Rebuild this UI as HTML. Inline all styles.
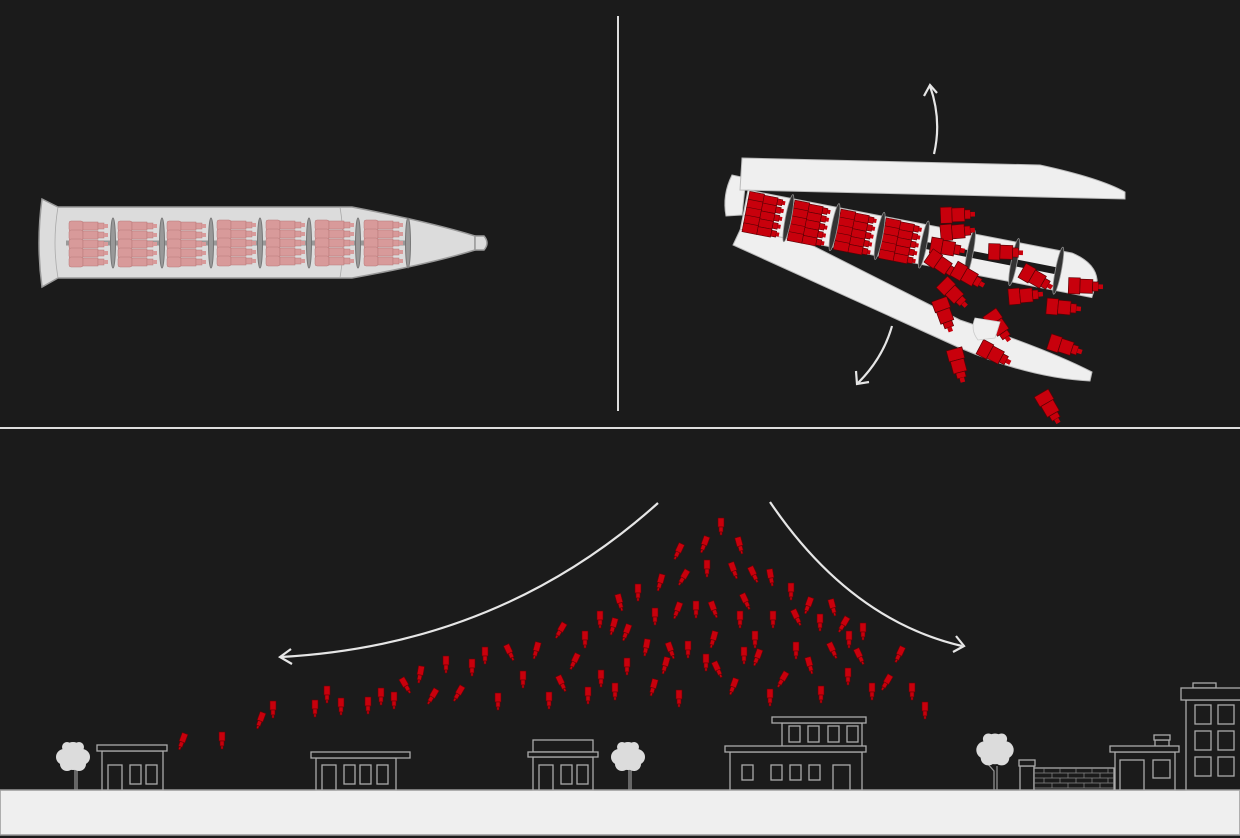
<!DOCTYPE html>
<html><head><meta charset="utf-8"><style>
html,body{margin:0;padding:0;background:#1b1b1b;}
svg{display:block}
</style></head><body>
<svg width="1240" height="838" viewBox="0 0 1240 838" xmlns="http://www.w3.org/2000/svg">
<defs>
<g id="b"><rect x="-3" y="-9" width="6" height="9" fill="#c8000c" stroke="#6a0005" stroke-width="0.6"/><rect x="-2" y="0" width="4" height="5" fill="#c8000c" stroke="#6a0005" stroke-width="0.6"/><rect x="-1" y="5" width="2" height="3" fill="#c8000c" stroke="#6a0005" stroke-width="0.6"/></g>
<g id="pc"><rect x="0" y="0" width="14" height="10" rx="2" fill="#d89a9a" stroke="#b87878" stroke-width="0.5"/><rect x="14" y="1" width="15" height="8" fill="#d89a9a" stroke="#b87878" stroke-width="0.5"/><rect x="29" y="2" width="6" height="6" fill="#d89a9a" stroke="#b87878" stroke-width="0.5"/><rect x="35" y="3" width="4" height="4" fill="#d89a9a"/></g>
<g id="pcl"><use href="#pc" y="0"/><use href="#pc" y="9"/><use href="#pc" y="18"/><use href="#pc" y="27"/><use href="#pc" y="36"/></g>
<g id="rc"><rect x="0" y="0" width="15" height="9" fill="#c8000c" stroke="#5a0004" stroke-width="0.6"/><rect x="15" y="1" width="14" height="8" fill="#c8000c" stroke="#5a0004" stroke-width="0.6"/><rect x="29" y="2" width="5" height="6" fill="#c8000c" stroke="#5a0004" stroke-width="0.6"/><rect x="34" y="3" width="3" height="4" fill="#c8000c"/></g>
<g id="rcl"><use href="#rc" y="0"/><use href="#rc" y="8"/><use href="#rc" y="16"/><use href="#rc" y="24"/><use href="#rc" y="32"/></g>
<g id="B"><rect x="-7" y="-10" width="14" height="10" fill="#c8000c" stroke="#5a0004" stroke-width="0.6"/><rect x="-6" y="0" width="12" height="11" fill="#c8000c" stroke="#5a0004" stroke-width="0.6"/><rect x="-4" y="11" width="8" height="5" fill="#c8000c" stroke="#5a0004" stroke-width="0.6"/><rect x="-2" y="16" width="4" height="4" fill="#c8000c"/></g>
<g id="tree"><circle cx="0" cy="-6" r="9"/><circle cx="-9" cy="0" r="8"/><circle cx="9" cy="0" r="8"/><circle cx="-6" cy="7" r="7"/><circle cx="6" cy="7" r="7"/><circle cx="0" cy="4" r="9"/><circle cx="-6" cy="-10" r="5"/><circle cx="6" cy="-10" r="5"/></g>
</defs>
<rect width="1240" height="838" fill="#1b1b1b"/>
<line x1="618" y1="16" x2="618" y2="411" stroke="#ddd" stroke-width="2"/>
<line x1="0" y1="428" x2="1240" y2="428" stroke="#ddd" stroke-width="2"/>

<!-- rocket left -->
<path d="M42,199 L58,207 L352,207 Q430,222 475,236 L475,250 Q430,264 352,278 L58,278 L42,287 Q36,243 42,199 Z" fill="#dcdcdc" stroke="#999" stroke-width="1.5"/>
<path d="M475,236 L484,236 Q490,243 484,250 L475,250 Z" fill="#dcdcdc" stroke="#999" stroke-width="1.5"/>
<path d="M58,207 Q52,243 58,278 M340,207 Q346,243 340,278" fill="none" stroke="#aaa" stroke-width="0.8"/>
<g>
<line x1="66" y1="243" x2="410" y2="243" stroke="#999" stroke-width="5"/>
<use href="#pcl" x="69" y="221"/><use href="#pcl" x="118" y="221"/><use href="#pcl" x="167" y="221"/><use href="#pcl" x="217" y="220"/><use href="#pcl" x="266" y="220"/><use href="#pcl" x="315" y="220"/><use href="#pcl" x="364" y="220"/>
<g fill="#999" stroke="#777"><ellipse cx="113" cy="243" rx="2.5" ry="25"/><ellipse cx="162" cy="243" rx="2.5" ry="25"/><ellipse cx="211" cy="243" rx="2.5" ry="25"/><ellipse cx="260" cy="243" rx="2.5" ry="25"/><ellipse cx="309" cy="243" rx="2.5" ry="25"/><ellipse cx="358" cy="243" rx="2.5" ry="25"/><ellipse cx="408" cy="243" rx="2.5" ry="25"/></g>
</g>

<!-- opening rocket right -->
<path d="M732,175 L746,178 L742,215 L726,216 Q722,195 732,175 Z" fill="#efefef" stroke="#bbb"/>
<path d="M742,158 L1040,165 Q1100,178 1125,192 L1125,199 L740,190 Z" fill="#efefef" stroke="#bbb"/>
<path d="M748,213 L960,320 Q1050,350 1092,372 L1090,381 Q1030,378 960,348 L733,245 Z" fill="#efefef" stroke="#bbb"/>
<g transform="translate(748,190) rotate(11)">
<path d="M0,0 L330,0 Q355,5 360,22 L358,40 L0,40 Z" fill="#efefef" stroke="#bbb"/>
<rect x="185" y="17" width="135" height="7" fill="#1b1b1b"/>
<use href="#rcl" x="2" y="1"/><use href="#rcl" x="48" y="1"/><use href="#rcl" x="95" y="1"/><use href="#rcl" x="141" y="1"/>
<g fill="#333" stroke="#999" stroke-width="0.8"><ellipse cx="45" cy="20" rx="3" ry="24"/><ellipse cx="92" cy="20" rx="3" ry="24"/><ellipse cx="138" cy="20" rx="3" ry="24"/><ellipse cx="183" cy="20" rx="3" ry="24"/><ellipse cx="230" cy="20" rx="3" ry="24"/><ellipse cx="275" cy="20" rx="3" ry="24"/><ellipse cx="320" cy="20" rx="3" ry="24"/></g>
</g>
<g>
<use href="#B" transform="translate(952,215) rotate(-92) scale(1.15)"/>
<use href="#B" transform="translate(952,232) rotate(-95) scale(1.15)"/>
<use href="#B" transform="translate(942,247) rotate(-80) scale(1.15)"/>
<use href="#B" transform="translate(1000,252) rotate(-88) scale(1.15)"/>
<use href="#B" transform="translate(938,262) rotate(-55) scale(1.15)"/>
<use href="#B" transform="translate(964,274) rotate(-60) scale(1.15)"/>
<use href="#B" transform="translate(1032,276) rotate(-60) scale(1.15)"/>
<use href="#B" transform="translate(1080,286) rotate(-88) scale(1.15)"/>
<use href="#B" transform="translate(1020,296) rotate(-95) scale(1.15)"/>
<use href="#B" transform="translate(950,290) rotate(-45) scale(1.15)"/>
<use href="#B" transform="translate(943,310) rotate(-20) scale(1.15)"/>
<use href="#B" transform="translate(1058,307) rotate(-85) scale(1.15)"/>
<use href="#B" transform="translate(996,322) rotate(-35) scale(1.15)"/>
<use href="#B" transform="translate(1060,345) rotate(-72) scale(1.15)"/>
<use href="#B" transform="translate(990,352) rotate(-62) scale(1.15)"/>
<use href="#B" transform="translate(957,360) rotate(-15) scale(1.15)"/>
<use href="#B" transform="translate(1047,403) rotate(-30) scale(1.15)"/>
</g>
<path d="M975,318 L1000,322 L995,338 L978,340 Q970,330 975,318 Z" fill="#efefef" stroke="#ccc" stroke-width="0.8"/>
<g fill="none" stroke="#e6e6e6" stroke-width="2.2">
<path d="M934,154 Q942,120 930,86"/><path d="M924,96 L930,85 L937,93"/>
<path d="M892,326 Q883,358 858,383"/><path d="M856,371 L857,384 L869,382"/>
<path d="M658,503 Q500,645 281,657"/><path d="M291,649 L280,657 L292,664"/>
<path d="M770,502 Q850,620 962,646"/><path d="M956,636 L964,646 L953,652"/>
</g>

<!-- falling bomblets -->
<g>
<use href="#b" transform="translate(721,527)"/><use href="#b" transform="translate(704,545) rotate(20)"/><use href="#b" transform="translate(678,552) rotate(25)"/><use href="#b" transform="translate(740,546) rotate(-15)"/><use href="#b" transform="translate(683,578) rotate(30)"/><use href="#b" transform="translate(707,569)"/><use href="#b" transform="translate(734,571) rotate(-20)"/><use href="#b" transform="translate(754,575) rotate(-25)"/><use href="#b" transform="translate(771,578) rotate(-10)"/><use href="#b" transform="translate(660,583) rotate(15)"/><use href="#b" transform="translate(638,593)"/><use href="#b" transform="translate(791,592)"/><use href="#b" transform="translate(620,603) rotate(-15)"/><use href="#b" transform="translate(600,620)"/><use href="#b" transform="translate(655,617)"/><use href="#b" transform="translate(677,611) rotate(20)"/><use href="#b" transform="translate(696,610)"/><use href="#b" transform="translate(714,610) rotate(-20)"/><use href="#b" transform="translate(746,602) rotate(-25)"/><use href="#b" transform="translate(808,606) rotate(20)"/><use href="#b" transform="translate(833,608) rotate(-15)"/><use href="#b" transform="translate(740,620)"/><use href="#b" transform="translate(773,620)"/><use href="#b" transform="translate(797,618) rotate(-25)"/><use href="#b" transform="translate(820,623)"/><use href="#b" transform="translate(843,625) rotate(30)"/><use href="#b" transform="translate(863,632)"/><use href="#b" transform="translate(585,640)"/><use href="#b" transform="translate(613,627) rotate(15)"/><use href="#b" transform="translate(626,633) rotate(20)"/><use href="#b" transform="translate(560,631) rotate(30)"/><use href="#b" transform="translate(536,651) rotate(15)"/><use href="#b" transform="translate(510,653) rotate(-25)"/><use href="#b" transform="translate(485,656)"/><use href="#b" transform="translate(446,665)"/><use href="#b" transform="translate(472,668)"/><use href="#b" transform="translate(420,675) rotate(10)"/><use href="#b" transform="translate(406,686) rotate(-30)"/><use href="#b" transform="translate(432,697) rotate(30)"/><use href="#b" transform="translate(458,694) rotate(30)"/><use href="#b" transform="translate(498,702)"/><use href="#b" transform="translate(523,680)"/><use href="#b" transform="translate(549,701)"/><use href="#b" transform="translate(574,662) rotate(25)"/><use href="#b" transform="translate(562,684) rotate(-25)"/><use href="#b" transform="translate(601,679)"/><use href="#b" transform="translate(588,696)"/><use href="#b" transform="translate(615,692)"/><use href="#b" transform="translate(627,667)"/><use href="#b" transform="translate(646,648) rotate(10)"/><use href="#b" transform="translate(665,666) rotate(15)"/><use href="#b" transform="translate(671,651) rotate(-20)"/><use href="#b" transform="translate(688,650)"/><use href="#b" transform="translate(706,663)"/><use href="#b" transform="translate(713,640) rotate(15)"/><use href="#b" transform="translate(718,670) rotate(-25)"/><use href="#b" transform="translate(733,687) rotate(20)"/><use href="#b" transform="translate(755,640)"/><use href="#b" transform="translate(757,658) rotate(20)"/><use href="#b" transform="translate(744,656)"/><use href="#b" transform="translate(782,680) rotate(30)"/><use href="#b" transform="translate(796,651)"/><use href="#b" transform="translate(810,666) rotate(-15)"/><use href="#b" transform="translate(833,651) rotate(-25)"/><use href="#b" transform="translate(849,640)"/><use href="#b" transform="translate(860,657) rotate(-25)"/><use href="#b" transform="translate(848,677)"/><use href="#b" transform="translate(821,695)"/><use href="#b" transform="translate(770,698)"/><use href="#b" transform="translate(679,699)"/><use href="#b" transform="translate(653,688) rotate(15)"/><use href="#b" transform="translate(872,692)"/><use href="#b" transform="translate(886,683) rotate(30)"/><use href="#b" transform="translate(899,655) rotate(25)"/><use href="#b" transform="translate(912,692)"/><use href="#b" transform="translate(925,711)"/><use href="#b" transform="translate(327,695)"/><use href="#b" transform="translate(341,707)"/><use href="#b" transform="translate(368,706)"/><use href="#b" transform="translate(381,697)"/><use href="#b" transform="translate(394,701)"/><use href="#b" transform="translate(315,709)"/><use href="#b" transform="translate(273,710)"/><use href="#b" transform="translate(260,721) rotate(20)"/><use href="#b" transform="translate(222,741)"/><use href="#b" transform="translate(182,742) rotate(20)"/>
</g>

<!-- ground -->
<rect x="0" y="790" width="1240" height="45" fill="#efefef" stroke="#999" stroke-width="1.5"/>

<!-- trees -->
<g fill="none" stroke="#999" stroke-width="1.2">
<path d="M75,790 L75,770 L68,762 M77,790 L77,766"/>
<path d="M629,790 L629,770 L622,762 M631,790 L631,766"/>
<path d="M994,790 L994,771 L987,763 M997,790 L997,766"/>
</g>
<g fill="#dcdcdc">
<use href="#tree" transform="translate(73,757)"/>
<use href="#tree" transform="translate(628,757)"/>
<use href="#tree" transform="translate(995,750) scale(1.1)"/>
</g>

<!-- buildings -->
<g fill="#1b1b1b" stroke="#aaa" stroke-width="1.3">
<rect x="102" y="751" width="61" height="39"/><rect x="97" y="745" width="70" height="6"/>
<rect x="108" y="765" width="14" height="25"/><rect x="130" y="765" width="11" height="19"/><rect x="146" y="765" width="11" height="19"/>

<rect x="316" y="758" width="80" height="32"/><rect x="311" y="752" width="99" height="6"/>
<rect x="322" y="765" width="14" height="25"/><rect x="344" y="765" width="11" height="19"/><rect x="360" y="765" width="11" height="19"/><rect x="377" y="765" width="11" height="19"/>

<rect x="533" y="740" width="60" height="12"/><rect x="533" y="757" width="60" height="33"/><rect x="528" y="752" width="70" height="5"/>
<rect x="539" y="765" width="14" height="25"/><rect x="561" y="765" width="11" height="19"/><rect x="577" y="765" width="11" height="19"/>

<rect x="782" y="723" width="80" height="24"/><rect x="772" y="717" width="94" height="6"/>
<rect x="789" y="726" width="11" height="16"/><rect x="808" y="726" width="11" height="16"/><rect x="828" y="726" width="11" height="16"/><rect x="847" y="726" width="11" height="16"/>
<rect x="730" y="752" width="132" height="38"/><rect x="725" y="746" width="141" height="6"/>
<rect x="742" y="765" width="11" height="15"/><rect x="771" y="765" width="11" height="15"/><rect x="790" y="765" width="11" height="15"/><rect x="809" y="765" width="11" height="15"/><rect x="833" y="765" width="17" height="25"/>

<rect x="1020" y="766" width="14" height="24"/><rect x="1019" y="760" width="16" height="6"/>
<rect x="1034" y="768" width="80" height="22" fill="#1b1b1b"/>
<path d="M1034,773 H1114 M1034,778 H1114 M1034,783 H1114 M1034,788 H1114" stroke="#888" stroke-width="0.7"/>
<path d="M1044,768 v5 M1060,768 v5 M1076,768 v5 M1092,768 v5 M1108,768 v5 M1052,773 v5 M1068,773 v5 M1084,773 v5 M1100,773 v5 M1044,778 v5 M1060,778 v5 M1076,778 v5 M1092,778 v5 M1108,778 v5 M1052,783 v5 M1068,783 v5 M1084,783 v5 M1100,783 v5" stroke="#888" stroke-width="0.7"/>

<rect x="1155" y="740" width="14" height="7"/><rect x="1154" y="735" width="16" height="5"/>
<rect x="1115" y="752" width="60" height="38"/><rect x="1110" y="746" width="69" height="6"/>
<rect x="1120" y="760" width="24" height="30"/><rect x="1153" y="760" width="17" height="18"/>

<rect x="1193" y="683" width="23" height="5"/>
<rect x="1186" y="700" width="60" height="90"/><rect x="1181" y="688" width="65" height="12"/>
<rect x="1195" y="705" width="16" height="19"/><rect x="1218" y="705" width="16" height="19"/>
<rect x="1195" y="731" width="16" height="19"/><rect x="1218" y="731" width="16" height="19"/>
<rect x="1195" y="757" width="16" height="19"/><rect x="1218" y="757" width="16" height="19"/>
</g>
</svg>
</body></html>
